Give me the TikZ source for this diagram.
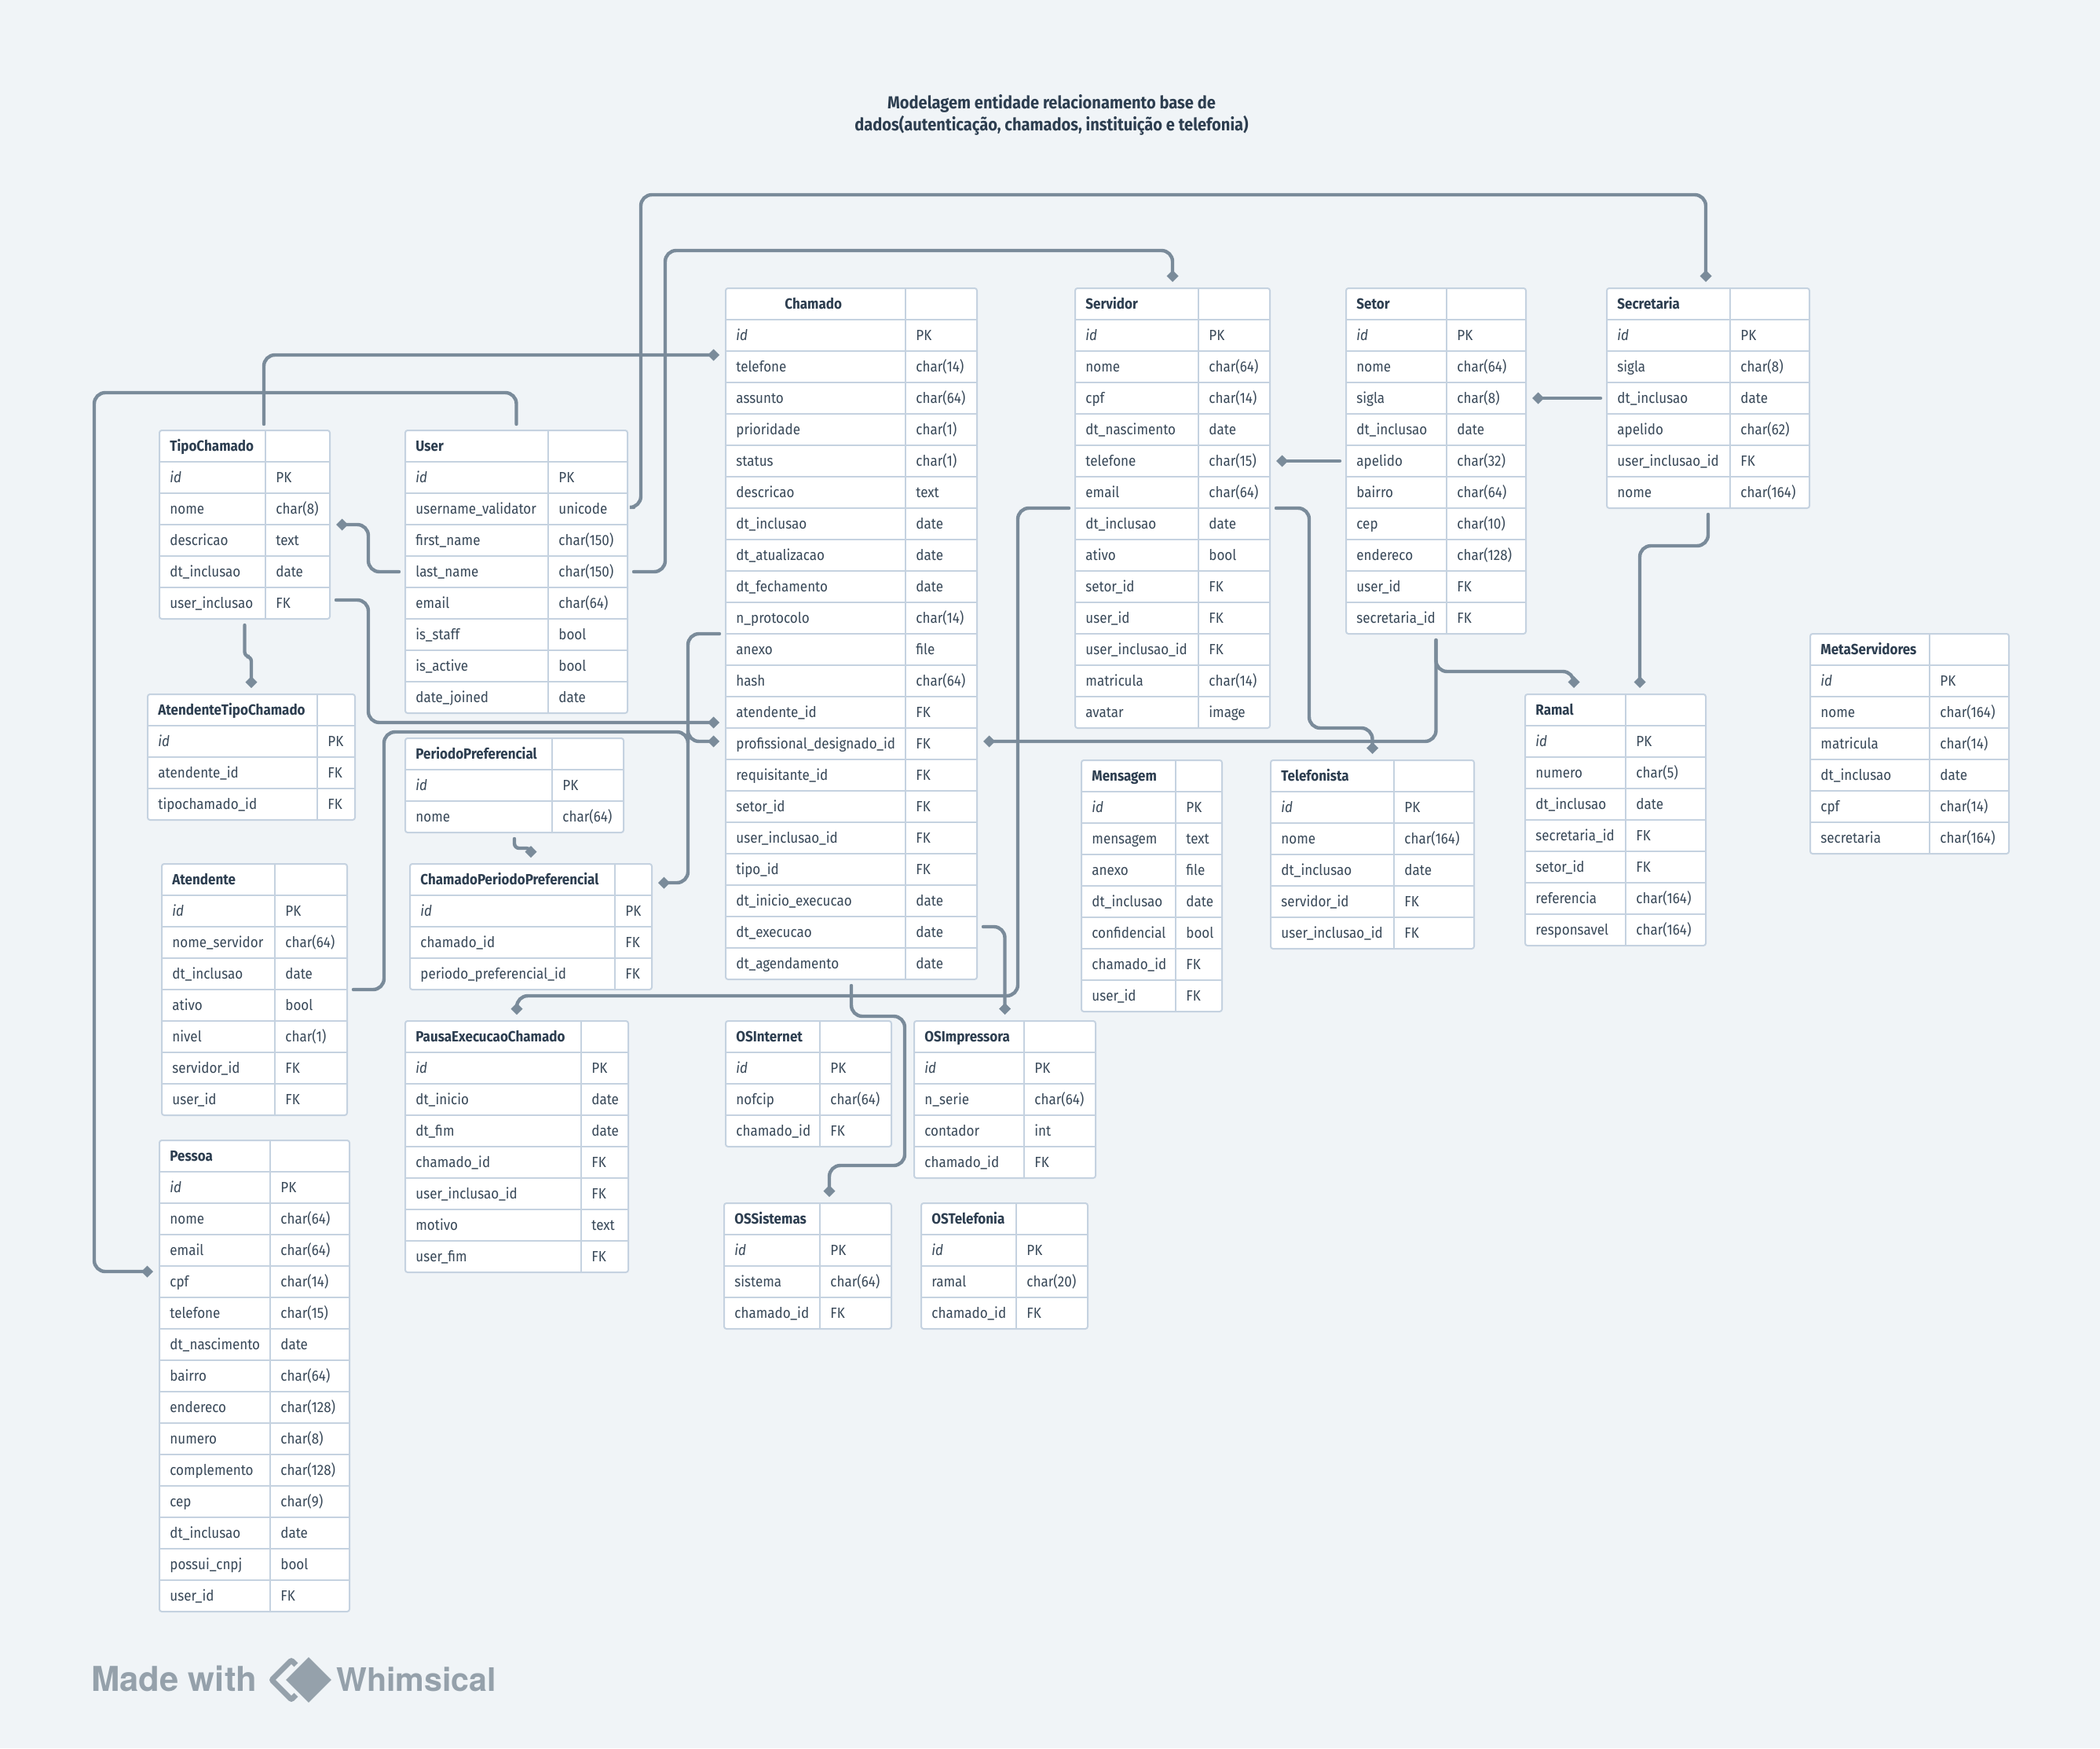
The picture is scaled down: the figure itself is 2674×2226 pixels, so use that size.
\documentclass[tikz,border=0pt]{standalone}
\usepackage{fontspec}
\setmainfont[FakeStretch=0.905]{Fira Sans}
\newfontfamily\markfont{TeX Gyre Heros}
\usetikzlibrary{arrows.meta}
\definecolor{pagebg}{HTML}{F0F4F7}
\definecolor{tableline}{HTML}{C5D2E0}
\definecolor{relline}{HTML}{7A8B9A}
\definecolor{celltext}{HTML}{384858}
\definecolor{headtext}{HTML}{2D3E50}
\definecolor{marktext}{HTML}{95A1AB}
\newcommand{\ertable}[8][]{%
  \node[tablebox, minimum width={(#6-#3)*0.5pt}, minimum height={#7*20pt}] (#2) at ({(#3+#6)/2},{#4+20*#7}) {};
  \draw[tablerule] (#5,#4) -- (#5,{#4+40*#7});
  \node[headcell,#1] (#2-h) at ({#3+13},{#4+26}) {#2};
  \foreach \lab/\typ [count=\rownum] in {#8} {
    \draw[tablerule] (#3,{#4+40*\rownum}) -- (#6,{#4+40*\rownum});
    \node[fieldcell] (#2-\rownum) at ({#3+13},{#4+40*\rownum+26}) {\lab};
    \node[fieldcell] (#2-\rownum-t) at ({#5+13},{#4+40*\rownum+26}) {\typ};
  }
}
\begin{document}
\begin{tikzpicture}[x=0.5pt,y=-0.5pt,
    tablebox/.style={draw=tableline, fill=white, line width=1pt, rounded corners=1.5pt, inner sep=0pt, outer sep=4pt},
    tablerule/.style={draw=tableline, line width=1pt},
    fieldcell/.style={anchor=base west, inner sep=0pt, text=celltext, font=\fontsize{9.4}{11}\selectfont},
    headcell/.style={fieldcell, text=headtext, font=\fontsize{9.4}{11}\selectfont\bfseries},
    titlenode/.style={align=center, inner sep=0pt, text=headtext, font=\fontsize{11.1}{14}\selectfont\bfseries},
    marknode/.style={anchor=base west, inner sep=0pt, text=marktext},
    rel/.style={draw=relline, line width=2.2pt, rounded corners=7pt, line cap=round, -{Diamond[length=7.5pt,width=7.5pt]}},
    reljog/.style={rel, rounded corners=3pt}
  ]
  \path[fill=pagebg,use as bounding box] (0,0) rectangle (2674,2226);

  \node[titlenode] (title) at (1339,146) {Modelagem entidade relacionamento base de\\dados(autenticação, chamados, instituição e telefonia)};

  \ertable[xshift=31pt]{Chamado}{924}{367}{1153}{1244}{22}{\textit{id}/PK,telefone/char(14),assunto/char(64),prioridade/char(1),status/char(1),descricao/text,dt\_inclusao/date,dt\_atualizacao/date,dt\_fechamento/date,n\_protocolo/char(14),anexo/file,hash/char(64),atendente\_id/FK,profissional\_designado\_id/FK,requisitante\_id/FK,setor\_id/FK,user\_inclusao\_id/FK,tipo\_id/FK,dt\_inicio\_execucao/date,dt\_execucao/date,dt\_agendamento/date}
  \ertable{Servidor}{1369}{367}{1526}{1617}{14}{\textit{id}/PK,nome/char(64),cpf/char(14),dt\_nascimento/date,telefone/char(15),email/char(64),dt\_inclusao/date,ativo/bool,setor\_id/FK,user\_id/FK,user\_inclusao\_id/FK,matricula/char(14),avatar/image}
  \ertable{Setor}{1714}{367}{1842}{1943}{11}{\textit{id}/PK,nome/char(64),sigla/char(8),dt\_inclusao/date,apelido/char(32),bairro/char(64),cep/char(10),endereco/char(128),user\_id/FK,secretaria\_id/FK}
  \ertable{Secretaria}{2046}{367}{2203}{2304}{7}{\textit{id}/PK,sigla/char(8),dt\_inclusao/date,apelido/char(62),user\_inclusao\_id/FK,nome/char(164)}
  \ertable{TipoChamado}{203}{548}{338}{420}{6}{\textit{id}/PK,nome/char(8),descricao/text,dt\_inclusao/date,user\_inclusao/FK}
  \ertable{User}{516}{548}{698}{799}{9}{\textit{id}/PK,username\_validator/unicode,first\_name/char(150),last\_name/char(150),email/char(64),is\_staff/bool,is\_active/bool,date\_joined/date}
  \ertable{AtendenteTipoChamado}{188}{884}{404}{452}{4}{\textit{id}/PK,atendente\_id/FK,tipochamado\_id/FK}
  \ertable{PeriodoPreferencial}{516}{940}{703}{794}{3}{\textit{id}/PK,nome/char(64)}
  \ertable{Atendente}{206}{1100}{350}{442}{8}{\textit{id}/PK,nome\_servidor/char(64),dt\_inclusao/date,ativo/bool,nivel/char(1),servidor\_id/FK,user\_id/FK}
  \ertable{Pessoa}{203}{1452}{344}{445}{15}{\textit{id}/PK,nome/char(64),email/char(64),cpf/char(14),telefone/char(15),dt\_nascimento/date,bairro/char(64),endereco/char(128),numero/char(8),complemento/char(128),cep/char(9),dt\_inclusao/date,possui\_cnpj/bool,user\_id/FK}
  \ertable{ChamadoPeriodoPreferencial}{522}{1100}{783}{830}{4}{\textit{id}/PK,chamado\_id/FK,periodo\_preferencial\_id/FK}
  \ertable{PausaExecucaoChamado}{516}{1300}{740}{800}{8}{\textit{id}/PK,dt\_inicio/date,dt\_fim/date,chamado\_id/FK,user\_inclusao\_id/FK,motivo/text,user\_fim/FK}
  \ertable{OSInternet}{924}{1300}{1044}{1135}{4}{\textit{id}/PK,nofcip/char(64),chamado\_id/FK}
  \ertable{OSImpressora}{1164}{1300}{1304}{1395}{5}{\textit{id}/PK,n\_serie/char(64),contador/int,chamado\_id/FK}
  \ertable{OSSistemas}{922}{1532}{1044}{1135}{4}{\textit{id}/PK,sistema/char(64),chamado\_id/FK}
  \ertable{OSTelefonia}{1173}{1532}{1294}{1385}{4}{\textit{id}/PK,ramal/char(20),chamado\_id/FK}
  \ertable{Mensagem}{1377}{968}{1497}{1556}{8}{\textit{id}/PK,mensagem/text,anexo/file,dt\_inclusao/date,confidencial/bool,chamado\_id/FK,user\_id/FK}
  \ertable{Telefonista}{1618}{968}{1775}{1877}{6}{\textit{id}/PK,nome/char(164),dt\_inclusao/date,servidor\_id/FK,user\_inclusao\_id/FK}
  \ertable{Ramal}{1942}{884}{2070}{2172}{8}{\textit{id}/PK,numero/char(5),dt\_inclusao/date,secretaria\_id/FK,setor\_id/FK,referencia/char(164),responsavel/char(164)}
  \ertable{MetaServidores}{2305}{807}{2457}{2558}{7}{\textit{id}/PK,nome/char(164),matricula/char(14),dt\_inclusao/date,cpf/char(14),secretaria/char(164)}

  \draw[rel] (User.east |- 0,646) -| (816,248) -| (Secretaria.north -| 2172,0);
  \draw[rel] (User.east |- 0,728) -| (847,319) -| (Servidor.north);
  \draw[rel] (TipoChamado.north -| 336,0) |- (Chamado.west |- 0,452);
  \draw[rel] (User.west |- 0,728) -| (469,668) -- (TipoChamado.east |- 0,668);
  \draw[rel] (TipoChamado.east |- 0,764) -| (469,920) -- (Chamado.west |- 0,920);
  \draw[reljog] (TipoChamado.south) |- (AtendenteTipoChamado.north |- 0,836) -- (AtendenteTipoChamado.north);
  \draw[rel] (User.north) |- (120,500) |- (Pessoa.west |- 0,1619);
  \draw[rel] (Chamado.west |- 0,807) -| (876,1124) -- (ChamadoPeriodoPreferencial.east |- 0,1124);
  \draw[rel] (Atendente.east |- 0,1260) -| (489,932) -| (876,944) -- (Chamado.west |- 0,944);
  \draw[rel] (Servidor.east |- 0,647) -| (1667,927) -| (Telefonista.north);
  \draw[rel] (Setor.south) |- (2004,855) -- (Ramal.north -| 2004,0);
  \draw[rel] (Secretaria.south) |- (2088,695) -- (Ramal.north -| 2088,0);
  \draw[rel] (Setor.south) |- (Chamado.east |- 0,944);
  \draw[rel] (Setor.west |- 0,587) -- (Servidor.east |- 0,587);
  \draw[rel] (Secretaria.west |- 0,507) -- (Setor.east |- 0,507);
  \draw[rel] (Servidor.west |- 0,647) -| (1296,1268) -| (PausaExecucaoChamado.north);
  \draw[rel] (Chamado.east |- 0,1180) -| (OSImpressora.north);
  \draw[rel] (Chamado.south) |- (1152,1294) |- (1056,1484) -- (OSSistemas.north -| 1056,0);
  \draw[reljog] (PeriodoPreferencial.south) |- (ChamadoPeriodoPreferencial.north |- 0,1080) -- (ChamadoPeriodoPreferencial.north);

  \node[marknode, font=\markfont\bfseries\fontsize{21.8}{24}\selectfont] (madewith) at (116,2153) {Made with};
  \draw[marktext, line width=3.5pt, rounded corners=1pt] (346,2139) -- (371,2114) -- (396,2139) -- (371,2164) -- cycle;
  \fill[marktext, draw=pagebg, line width=2pt, rounded corners=1pt] (361,2139) -- (393,2107) -- (425,2139) -- (393,2171) -- cycle;
  \node[marknode, font=\markfont\bfseries\fontsize{20.6}{24}\selectfont] (whimsical) at (428,2153) {Whimsical};
\end{tikzpicture}
\end{document}
